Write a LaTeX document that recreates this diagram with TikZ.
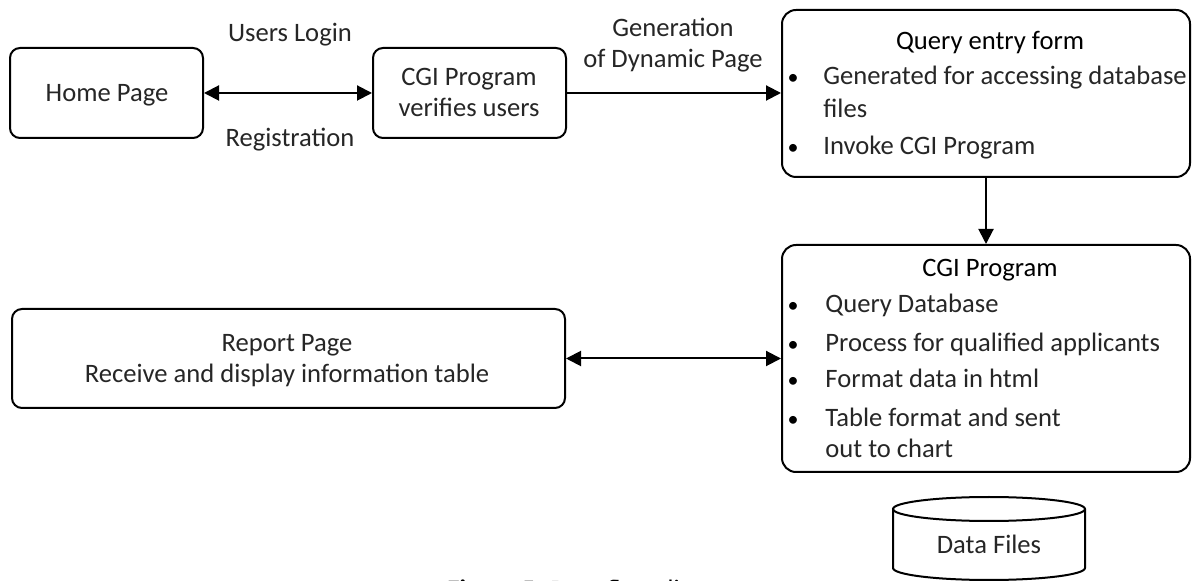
\documentclass[tikz,border=0pt]{standalone}
\usepackage{fontspec}
\setmainfont{Carlito}
\usetikzlibrary{arrows.meta}
\begin{document}
\begin{tikzpicture}[x=0.5pt,y=-0.5pt, font=\fontsize{13.3}{16}\selectfont,
  box/.style={draw, line width=1pt, rounded corners=5pt, inner sep=0pt},
  bigbox/.style={draw, line width=1pt, rounded corners=7pt, inner sep=0pt},
  arr/.style={line width=1pt, -{Triangle[length=7.5pt,width=7.5pt]}},
  darr/.style={line width=1pt, {Triangle[length=7.5pt,width=7.5pt]}-{Triangle[length=7.5pt,width=7.5pt]}},
  lbl/.style={anchor=base, inner sep=0pt, text=black!85},
  ttl/.style={anchor=base, inner sep=0pt},
  itemtext/.style={anchor=base west, inner sep=0pt, text=black!85},
  bul/.style={anchor=base, inner sep=0pt, font=\fontsize{11}{13}\selectfont}]
\useasboundingbox (0,0) rectangle (1192,581);
% boxes
\node[box, minimum width=96.5pt, minimum height=45pt] (home) at (106.5,93) {};
\node[box, minimum width=96.5pt, minimum height=45pt] (cgiv) at (469.5,93) {};
\node[bigbox, minimum width=204pt, minimum height=83.5pt] (query) at (986,93.5) {};
\node[bigbox, minimum width=204pt, minimum height=113.5pt] (cgi) at (986,358.5) {};
\node[box, minimum width=276.5pt, minimum height=49.5pt] (report) at (288.5,358.5) {};
% box texts
\node[lbl] (homet) at (107,102) {Home Page};
\node[lbl] (cgivt1) at (469,86) {CGI Program};
\node[lbl] (cgivt2) at (469,117) {verifies users};
\node[lbl] (rep1) at (287,352) {Report Page};
\node[lbl] (rep2) at (287,383) {Receive and display information table};
% query list
\node[ttl] (qt) at (990,50) {Query entry form};
\node[bul] (qb1) at (793,85) {•};
\node[itemtext] (qi1) at (823,85) {Generated for accessing database};
\node[itemtext] (qi1b) at (823,118) {files};
\node[bul] (qb2) at (793,155) {•};
\node[itemtext] (qi2) at (823,155) {Invoke CGI Program};
% cgi list
\node[ttl] (ct) at (990,277) {CGI Program};
\node[bul] (cb1) at (793,313) {•};
\node[itemtext] (ci1) at (825,313) {Query Database};
\node[bul] (cb2) at (793,352) {•};
\node[itemtext] (ci2) at (825,352) {Process for qualified applicants};
\node[bul] (cb3) at (793,388) {•};
\node[itemtext] (ci3) at (825,388) {Format data in html};
\node[bul] (cb4) at (793,427) {•};
\node[itemtext] (ci4) at (825,427) {Table format and sent};
\node[itemtext] (ci4b) at (825,458) {out to chart};
% edge labels
\node[lbl] (ul) at (290,42) {Users Login};
\node[lbl] (reg) at (290,147) {Registration};
\node[lbl] (gen1) at (673,37) {Generation};
\node[lbl] (gen2) at (673,68) {of Dynamic Page};
% connectors
\draw[darr] (home.east) -- (cgiv.west);
\draw[arr] (cgiv.east) -- (cgiv.east -| query.west);
\draw[arr] (query.south) -- (cgi.north);
\draw[darr] (report.east) -- (cgi.west);
% data store
\draw[line width=1pt] (989,509) ellipse [x radius=48pt, y radius=6pt];
\draw[line width=1pt] (893,509) -- (893,568) arc[start angle=180, end angle=360, x radius=48pt, y radius=6pt] -- (1085,509);
\node[lbl] (df) at (989,553) {Data Files};
% caption
\node[itemtext, text=black] (cap) at (447,598) {\textbf{Figure 5:} Data flow diagram};
\end{tikzpicture}
\end{document}
